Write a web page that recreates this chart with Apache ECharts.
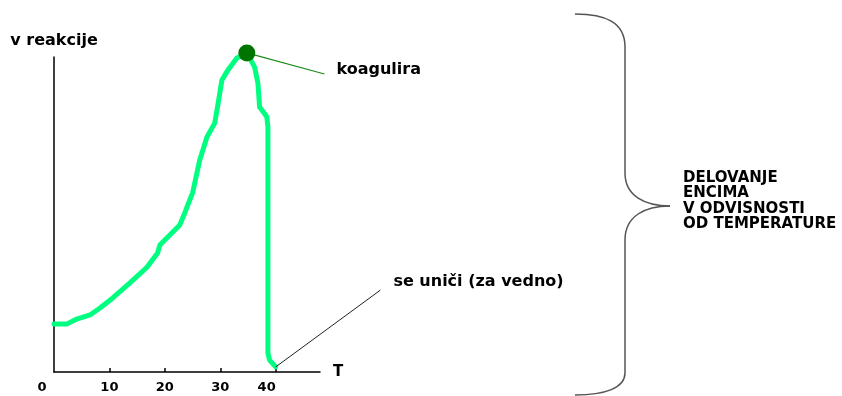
<!DOCTYPE html>
<html lang="sl">
<head>
    <meta charset="utf-8">
    <title>Delovanje encima v odvisnosti od temperature</title>
    <script src="https://cdn.jsdelivr.net/npm/echarts@6/dist/echarts.min.js"></script>
    <style>
        html, body { margin: 0; padding: 0; background: #fff; }
        #main { width: 842px; height: 396px; }
    </style>
</head>
<body>
<div id="main"></div>
<script type="text/javascript">
// temperatura (T) in hitrost reakcije, odčitano s slike
var temp = [0, 2.3, 4.1, 6.5, 8.3, 10.6, 13.7, 16.8, 18.7, 19.1, 20.9, 22.7, 23.6, 24.5,
            25.0, 26.3, 27.6, 29.0, 29.5, 30.3, 31.4, 33.0, 34.8,
            36.2, 36.8, 37.1, 38.4, 38.6, 38.6, 38.9, 40.0];
var rate = [15.2, 15.2, 16.8, 18.1, 20.3, 23.5, 28.3, 33.3, 37.8, 40.3, 43.5, 46.7, 50.5, 54.6,
            56.8, 67.3, 74.6, 79.0, 84.1, 92.7, 95.9, 99.7, 101.3,
            96.8, 91.7, 84.1, 81.0, 77.8, 6.0, 3.8, 1.6];
var xTicks = [10, 20, 30, 40];
var xLabels = [0, 10, 20, 30, 40];
var peak = [34.8, 101.3];
var koagLine = [[34.8, 101.3], [48.8, 94.6]];
var unicLine = [[40.0, 1.6], [58.9, 26.0]];
var braceText = ['DELOVANJE', 'ENCIMA', 'V ODVISNOSTI', 'OD TEMPERATURE'];

var font = 'DejaVu Sans';
var xMax = 48;
var gridW = 266;                    // širina osi T v pikslih
var xMaxWide = xMax * 788 / gridW;  // ista skala, raztegnjena do desnega roba

function pairs(xs, ys) {
    var out = [];
    for (var i = 0; i < xs.length; i++) out.push([xs[i], ys[i]]);
    return out;
}

// zaviti oklepaj na desni (samo okras)
var braceStyle = { fill: 'none', stroke: '#555', lineWidth: 1.5 };
function bez(x1, y1, c1x, c1y, c2x, c2y, x2, y2) {
    return { type: 'bezierCurve', shape: { x1: x1, y1: y1, cpx1: c1x, cpy1: c1y, cpx2: c2x, cpy2: c2y, x2: x2, y2: y2 }, style: braceStyle };
}
function seg(x1, y1, x2, y2) {
    return { type: 'line', shape: { x1: x1, y1: y1, x2: x2, y2: y2 }, style: braceStyle };
}

var labelFont = { fontFamily: font, fontWeight: 'bold', fontSize: 16, color: '#000' };
var tickFont = { fontFamily: font, fontWeight: 'bold', fontSize: 13, color: '#000' };

var myChart = echarts.init(document.getElementById('main'));
var option = {
    animation: false,
    backgroundColor: '#fff',
    grid: [
        { left: 54, right: 842 - 54 - gridW, top: 57, bottom: 24 },
        { left: 54, right: 0, top: 57, bottom: 24 }
    ],
    xAxis: [{
        type: 'value',
        min: 0,
        max: xMax,
        name: 'T',
        nameLocation: 'end',
        nameGap: 13,
        nameTextStyle: { fontFamily: font, fontWeight: 'bold', fontSize: 15, color: '#000' },
        splitLine: { show: false },
        axisLine: { lineStyle: { color: '#000', width: 1.5 } },
        axisTick: { inside: true, length: 4, customValues: xTicks, lineStyle: { color: '#000', width: 1.5 } },
        axisLabel: Object.assign({
            customValues: xLabels,
            margin: 9,
            formatter: function (v) {
                if (v === 0) return '{z|0}';
                if (v === 40) return '{f|40}';
                return String(v);
            },
            rich: {
                z: Object.assign({ padding: [0, 24, 0, 0] }, tickFont),
                f: Object.assign({ padding: [0, 18, 0, 0] }, tickFont)
            }
        }, tickFont)
    }, {
        // skrita os za opombe (isto merilo kot T)
        type: 'value', gridIndex: 1, min: 0, max: xMaxWide, show: false
    }],
    yAxis: [{
        type: 'value',
        min: 0,
        max: 100,
        name: 'v reakcije',
        nameLocation: 'end',
        nameGap: 8,
        nameTextStyle: labelFont,
        splitLine: { show: false },
        axisLine: { show: true, lineStyle: { color: '#000', width: 1.5 } },
        axisTick: { show: false },
        axisLabel: { show: false }
    }, {
        type: 'value', gridIndex: 1, min: 0, max: 100, show: false
    }],
    graphic: [
        bez(575, 14, 605, 14, 625, 22, 625, 47),
        seg(625, 47, 625, 173),
        bez(625, 173, 625, 196, 645, 206, 670, 206),
        bez(670, 206, 645, 206, 625, 216, 625, 240),
        seg(625, 240, 625, 373),
        bez(625, 373, 625, 388, 605, 395, 575, 395),
        {
            type: 'text',
            left: 683,
            top: 170,
            style: {
                text: braceText.join('\n'),
                font: 'bold 15px "DejaVu Sans"',
                fill: '#000',
                lineHeight: 15.5
            }
        }
    ],
    series: [
        {
            name: 'hitrost',
            type: 'line',
            data: pairs(temp, rate),
            clip: false,
            symbol: 'none',
            lineStyle: { color: '#00ff80', width: 5, join: 'round', cap: 'round' }
        },
        {
            name: 'koagulira',
            type: 'line',
            xAxisIndex: 1,
            yAxisIndex: 1,
            data: koagLine,
            clip: false,
            symbol: 'none',
            lineStyle: { color: '#1a8a1a', width: 1.2 },
            endLabel: Object.assign({ show: true, formatter: 'koagulira', distance: 12, offset: [0, -4] }, labelFont)
        },
        {
            name: 'se uniči',
            type: 'line',
            xAxisIndex: 1,
            yAxisIndex: 1,
            data: unicLine,
            clip: false,
            symbol: 'none',
            lineStyle: { color: '#222', width: 1 },
            endLabel: Object.assign({ show: true, formatter: 'se uniči (za vedno)', distance: 13, offset: [0, -8] }, labelFont)
        },
        {
            name: 'vrh',
            type: 'scatter',
            data: [peak],
            clip: false,
            symbolSize: 17,
            itemStyle: { color: '#007400', opacity: 1 },
            z: 5
        }
    ]
};
myChart.setOption(option);
</script>
</body>
</html>
